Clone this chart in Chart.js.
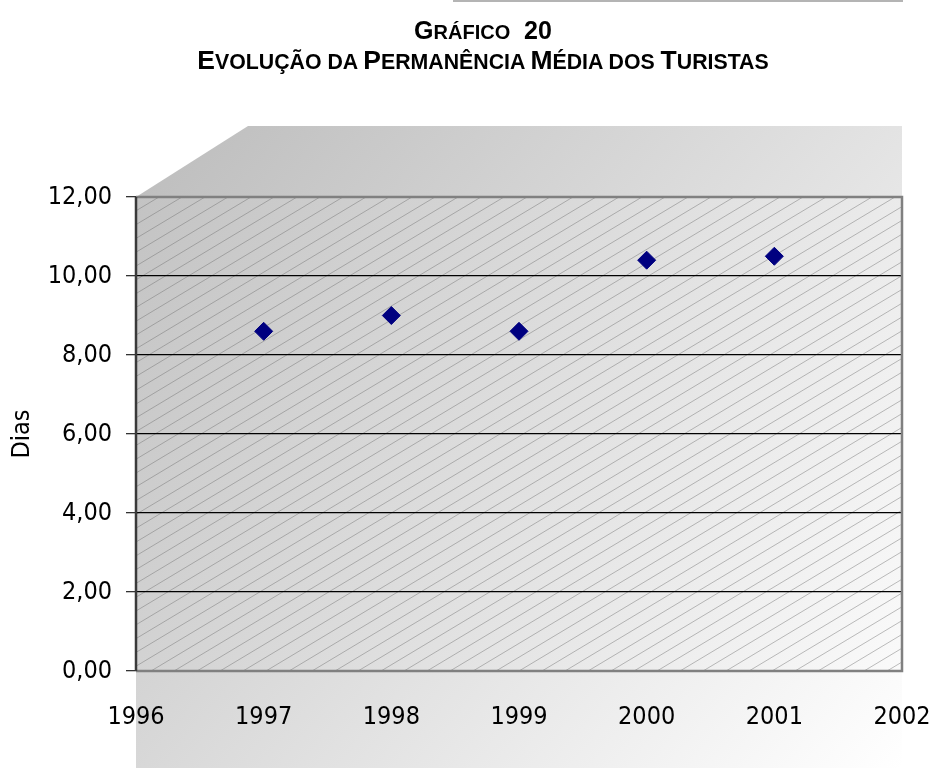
<!DOCTYPE html>
<html>
<head>
<meta charset="utf-8">
<script src="https://cdn.jsdelivr.net/npm/chart.js@4/dist/chart.umd.min.js"></script>
<style>
  html, body { margin: 0; padding: 0; background: #fff; overflow: hidden; }
  #wrap { position: relative; width: 930px; height: 768px; }
  #topline { position: absolute; left: 453px; top: 0px; width: 450px; height: 2px; background: #b4b4b4; }
  .ttl { position: absolute; left: 183px; width: 600px; text-align: center;
         font-family: "Liberation Sans", Arial, sans-serif; font-weight: bold;
         color: #000; white-space: nowrap; }
  #t1 { top: 18px; font-size: 25px; line-height: 25px; }
  #t1 .s { font-size: 20px; }
  #t2 { top: 47px; font-size: 26.5px; line-height: 26px; }
  #t2 .s { font-size: 21.3px; }
  canvas { position: absolute; left: 0; top: 0; }
</style>
</head>
<body>
<div id="wrap">
  <canvas id="c" width="930" height="768"></canvas>
  <div id="topline"></div>
  <div class="ttl" id="t1">G<span class="s">RÁFICO</span>&nbsp; 20</div>
  <div class="ttl" id="t2">E<span class="s">VOLUÇÃO DA </span>P<span class="s">ERMANÊNCIA </span>M<span class="s">ÉDIA DOS </span>T<span class="s">URISTAS</span></div>
</div>
<script>
const years = [1997, 1998, 1999, 2000, 2001];
const dias = [8.6, 9.0, 8.6, 10.4, 10.5];
const xTicks = [1996, 1997, 1998, 1999, 2000, 2001, 2002];
const yTicks = [0, 2, 4, 6, 8, 10, 12];
const yTitle = 'Dias';

const FONT = '"Liberation Sans Narrow", "Arial Narrow", "DejaVu Sans Condensed", sans-serif';
const FSIZE = 25;

const backdrop = {
  id: 'backdrop',
  beforeDraw(chart) {
    const ctx = chart.ctx;
    const a = chart.chartArea;
    ctx.save();
    const depthX = 112, depthY = 71;
    const g = ctx.createLinearGradient(a.left, a.top - depthY, a.right, chart.height);
    g.addColorStop(0, '#bcbcbc');
    g.addColorStop(1, '#ffffff');
    ctx.fillStyle = g;
    ctx.beginPath();
    ctx.moveTo(a.left, a.top);
    ctx.lineTo(a.left + depthX, a.top - depthY);
    ctx.lineTo(a.right, a.top - depthY);
    ctx.lineTo(a.right, chart.height);
    ctx.lineTo(a.left, chart.height);
    ctx.closePath();
    ctx.fill();
    const g2 = ctx.createLinearGradient(a.left, a.top, a.right, a.bottom);
    g2.addColorStop(0, '#c3c3c3');
    g2.addColorStop(1, '#fafafa');
    ctx.fillStyle = g2;
    ctx.fillRect(a.left, a.top, a.right - a.left, a.bottom - a.top);
    ctx.beginPath();
    ctx.rect(a.left, a.top, a.right - a.left, a.bottom - a.top);
    ctx.clip();
    ctx.strokeStyle = 'rgba(110,110,110,0.45)';
    ctx.lineWidth = 1;
    const slope = 0.6, step = 23;
    const h = a.bottom - a.top;
    ctx.beginPath();
    for (let x0 = a.left - h / slope - step; x0 < a.right + step; x0 += step) {
      ctx.moveTo(x0, a.bottom);
      ctx.lineTo(x0 + h / slope, a.top);
    }
    ctx.stroke();
    ctx.restore();
  },
  beforeDatasetsDraw(chart) {
    const ctx = chart.ctx;
    const a = chart.chartArea;
    ctx.save();
    ctx.strokeStyle = '#808080';
    ctx.lineWidth = 2.5;
    ctx.beginPath();
    ctx.moveTo(a.left, a.top);
    ctx.lineTo(a.right, a.top);
    ctx.lineTo(a.right, a.bottom);
    ctx.lineTo(a.left, a.bottom);
    ctx.stroke();
    ctx.strokeStyle = '#3a3a3a';
    ctx.beginPath();
    ctx.moveTo(a.left, a.top);
    ctx.lineTo(a.left, a.bottom);
    ctx.stroke();
    ctx.restore();
  }
};

new Chart(document.getElementById('c'), {
  type: 'scatter',
  data: {
    datasets: [{
      data: years.map((y, i) => ({ x: y, y: dias[i] })),
      pointStyle: 'rectRot',
      pointRadius: 9,
      pointHoverRadius: 9,
      backgroundColor: '#000080',
      borderColor: '#000080',
      borderWidth: 1
    }]
  },
  options: {
    responsive: false,
    animation: false,
    events: [],
    layout: { padding: { left: 0, top: 197, right: 28, bottom: 0 } },
    plugins: { legend: { display: false }, tooltip: { enabled: false }, title: { display: false } },
    scales: {
      x: {
        type: 'linear',
        min: xTicks[0], max: xTicks[xTicks.length - 1],
        afterBuildTicks(s) { s.ticks = xTicks.map(v => ({ value: v })); },
        afterFit(s) { s.height = 97; s.paddingLeft = 0; s.paddingRight = 0; },
        grid: { display: false, drawTicks: false },
        border: { display: false },
        ticks: {
          padding: 31,
          color: '#000',
          font: { family: FONT, size: FSIZE },
          maxRotation: 0,
          callback: v => String(v)
        }
      },
      y: {
        min: 0, max: 12,
        afterBuildTicks(s) { s.ticks = yTicks.map(v => ({ value: v })); },
        afterFit(s) { s.width = 136; s.paddingTop = 0; s.paddingBottom = 0; },
        grid: {
          color: c => (c.tick && (c.tick.value === 0 || c.tick.value === 12)) ? 'rgba(0,0,0,0)' : '#000',
          lineWidth: 1.3,
          tickColor: '#333',
          tickLength: 10,
          drawTicks: true
        },
        border: { display: false },
        ticks: {
          padding: 14,
          color: '#000',
          font: { family: FONT, size: FSIZE },
          callback: v => v.toFixed(2).replace('.', ',')
        },
        title: {
          display: true,
          text: yTitle,
          color: '#000',
          font: { family: FONT, size: FSIZE },
          padding: { top: 7, bottom: 0 }
        }
      }
    }
  },
  plugins: [backdrop]
});
</script>
</body>
</html>
